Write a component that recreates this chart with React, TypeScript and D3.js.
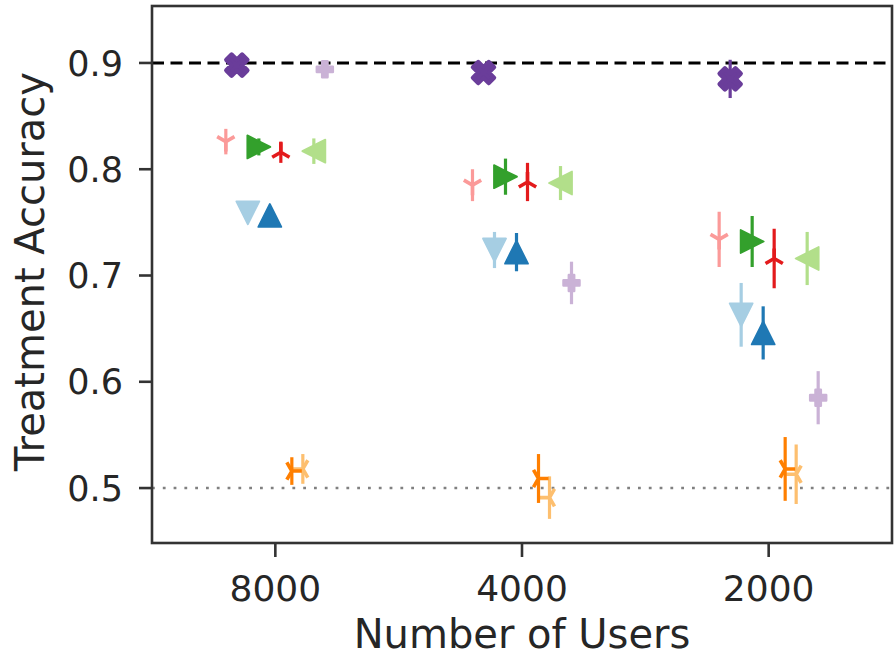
import React from "react";
import * as d3 from "d3";

// Sample sizes shown on the x axis (one cluster per value)
const userCounts = ["8000", "4000", "2000"];
const yTicks = [0.5, 0.6, 0.7, 0.8, 0.9];

// Methods, in drawing order, with their Paired colours and marker styles
const seriesNames = ["A1", "A2", "B1", "B2", "C1", "C2", "D1", "D2", "E1", "E2"];
const seriesColors = [
  "#a6cee3", "#1f78b4", "#b2df8a", "#33a02c", "#fb9a99",
  "#e31a1c", "#fdbf6f", "#ff7f00", "#cab2d6", "#6a3d9a",
];
const seriesMarkers = ["v", "^", "<", ">", "1", "2", "3", "4", "P", "X"];
// Left-to-right slot of each method inside a cluster
const seriesSlots = [2, 4, 8, 3, 0, 5, 7, 6, 9, 1];

// Mean treatment accuracy per cluster (8000, 4000, 2000 users)
const meanA1 = [0.759, 0.724, 0.663];
const meanA2 = [0.7565, 0.722, 0.646];
const meanB1 = [0.817, 0.787, 0.716];
const meanB2 = [0.821, 0.793, 0.732];
const meanC1 = [0.826, 0.785, 0.734];
const meanC2 = [0.816, 0.788, 0.716];
const meanD1 = [0.518, 0.491, 0.513];
const meanD2 = [0.516, 0.509, 0.518];
const meanE1 = [0.894, 0.693, 0.585];
const meanE2 = [0.898, 0.891, 0.885];

// Half-width of the error bars
const errA1 = [0.006, 0.017, 0.03];
const errA2 = [0.005, 0.018, 0.025];
const errB1 = [0.012, 0.016, 0.025];
const errB2 = [0.008, 0.017, 0.024];
const errC1 = [0.012, 0.015, 0.026];
const errC2 = [0.01, 0.018, 0.028];
const errD1 = [0.014, 0.02, 0.028];
const errD2 = [0.013, 0.023, 0.03];
const errE1 = [0.006, 0.02, 0.025];
const errE2 = [0.006, 0.008, 0.018];

const means = [meanA1, meanA2, meanB1, meanB2, meanC1, meanC2, meanD1, meanD2, meanE1, meanE2];
const errs = [errA1, errA2, errB1, errB2, errC1, errC2, errD1, errD2, errE1, errE2];

const oracleLevel = 0.9;
const chanceLevel = 0.5;

const W = 894;
const H = 659;
const plot = { left: 152, right: 892, top: 6, bottom: 543 };
const TEXT = "#262626";
const FONT = "DejaVu Sans, Liberation Sans, sans-serif";

const x = d3.scaleLinear().domain([-0.5, 2.5]).range([plot.left, plot.right]);
const y = d3.scaleLinear().domain([0.4483, 0.9536]).range([plot.bottom, plot.top]);
const dodge = 0.0446;

function poly(pts: number[][], k: number) {
  return "M" + pts.map((p) => `${p[0] * k},${p[1] * k}`).join("L") + "Z";
}

function markerShape(m: string, s: number): { d: string; filled: boolean } {
  const h = s / 2;
  const a = 0.866 * h;
  const b = 0.5 * h;
  switch (m) {
    case "^":
      return { d: `M0,${-h}L${h},${h}L${-h},${h}Z`, filled: true };
    case "v":
      return { d: `M0,${h}L${h},${-h}L${-h},${-h}Z`, filled: true };
    case "<":
      return { d: `M${-h},0L${h},${-h}L${h},${h}Z`, filled: true };
    case ">":
      return { d: `M${h},0L${-h},${-h}L${-h},${h}Z`, filled: true };
    case "1":
      return { d: `M0,0L0,${h}M0,0L${a},${-b}M0,0L${-a},${-b}`, filled: false };
    case "2":
      return { d: `M0,0L0,${-h}M0,0L${a},${b}M0,0L${-a},${b}`, filled: false };
    case "3":
      return { d: `M0,0L${-h},0M0,0L${b},${a}M0,0L${b},${-a}`, filled: false };
    case "4":
      return { d: `M0,0L${h},0M0,0L${-b},${a}M0,0L${-b},${-a}`, filled: false };
    case "P":
      return {
        d: poly(
          [[-1, -3], [1, -3], [1, -1], [3, -1], [3, 1], [1, 1], [1, 3], [-1, 3], [-1, 1], [-3, 1], [-3, -1], [-1, -1]],
          s / 6
        ),
        filled: true,
      };
    default:
      return {
        d: poly(
          [[-1, -2], [0, -1], [1, -2], [2, -1], [1, 0], [2, 1], [1, 2], [0, 1], [-1, 2], [-2, 1], [-1, 0], [-2, -1]],
          s / 4
        ),
        filled: true,
      };
  }
}

function markerSize(m: string) {
  if (m === "P") return 16;
  if (m === "X") return 21;
  if ("1234".includes(m)) return 20;
  return 23;
}

function edgeWidth(m: string) {
  if (m === "X") return 4.5;
  if (m === "P") return 2.5;
  if ("1234".includes(m)) return 3.6;
  return 1.8;
}

export default function App() {
  return (
    <svg
      width={W}
      height={H}
      style={{ position: "absolute", left: 0, top: 0, background: "#fff" }}
      fontFamily={FONT}
    >
      {/* reference levels */}
      <line
        x1={plot.left}
        x2={plot.right}
        y1={y(oracleLevel)}
        y2={y(oracleLevel)}
        stroke="#000"
        strokeWidth={3}
        strokeDasharray="12,6.5"
      />
      <line
        x1={plot.left}
        x2={plot.right}
        y1={y(chanceLevel)}
        y2={y(chanceLevel)}
        stroke="#808080"
        strokeWidth={2.6}
        strokeDasharray="2.8,8"
      />

      {/* error bars and markers */}
      {seriesNames.map((name, si) => {
        const color = seriesColors[si];
        const m = seriesMarkers[si];
        const shape = markerShape(m, markerSize(m));
        return (
          <g key={name}>
            {userCounts.map((u, ci) => {
              const cx = x(ci + (seriesSlots[si] - 4.5) * dodge);
              const v = means[si][ci];
              const e = errs[si][ci];
              return (
                <g key={u}>
                  <line
                    x1={cx}
                    x2={cx}
                    y1={y(v - e)}
                    y2={y(v + e)}
                    stroke={color}
                    strokeWidth={3.2}
                  />
                  <path
                    d={shape.d}
                    transform={`translate(${cx},${y(v)})`}
                    fill={shape.filled ? color : "none"}
                    stroke={color}
                    strokeWidth={edgeWidth(m)}
                    strokeLinejoin="round"
                  />
                </g>
              );
            })}
          </g>
        );
      })}

      {/* frame */}
      <rect
        x={plot.left}
        y={plot.top}
        width={plot.right - plot.left}
        height={plot.bottom - plot.top}
        fill="none"
        stroke="#333"
        strokeWidth={2.6}
      />

      {/* y axis */}
      {yTicks.map((t) => (
        <g key={t} transform={`translate(0,${y(t)})`}>
          <line x1={plot.left - 13} x2={plot.left} stroke="#333" strokeWidth={2.6} />
          <text
            x={plot.left - 29}
            dy="0.36em"
            textAnchor="end"
            fontSize={35}
            fill={TEXT}
          >
            {d3.format(".1f")(t)}
          </text>
        </g>
      ))}

      {/* x axis */}
      {userCounts.map((u, ci) => (
        <g key={u} transform={`translate(${x(ci)},0)`}>
          <line y1={plot.bottom} y2={plot.bottom + 14} stroke="#333" strokeWidth={2.6} />
          <text y={601} textAnchor="middle" fontSize={36} fill={TEXT}>
            {u}
          </text>
        </g>
      ))}

      <text x={(plot.left + plot.right) / 2} y={648} textAnchor="middle" fontSize={40} fill={TEXT}>
        Number of Users
      </text>
      <text
        transform={`translate(44,${(plot.top + plot.bottom) / 2 - 3}) rotate(-90)`}
        textAnchor="middle"
        fontSize={40}
        fill={TEXT}
      >
        Treatment Accuracy
      </text>
    </svg>
  );
}
